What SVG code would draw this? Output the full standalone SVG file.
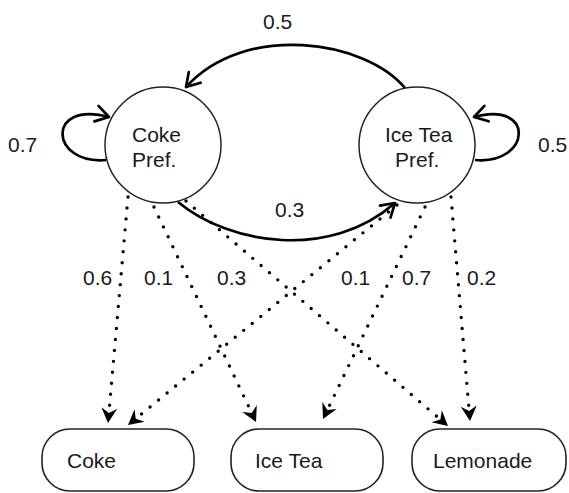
<svg xmlns="http://www.w3.org/2000/svg" width="569" height="493" viewBox="0 0 569 493">
<style>
  text { font-family: "Liberation Sans", Arial, sans-serif; font-size: 21px; fill: #1a1a1a; }
  .state { fill: #fff; stroke: #222; stroke-width: 1.5; }
  .obs { fill: #fff; stroke: #222; stroke-width: 1.6; }
  .solid { fill: none; stroke: #000; stroke-width: 2.7; }
  .dotted { fill: none; stroke: #000; stroke-width: 3.4; stroke-linecap: round; stroke-dasharray: 0 11; }
</style>
<defs>
  <marker id="open" markerUnits="userSpaceOnUse" markerWidth="26" markerHeight="26" viewBox="-20 -13 26 26" refX="0" refY="0" orient="auto">
    <path d="M-13,-8 L0,0 L-13,8" fill="none" stroke="#000" stroke-width="2.7" stroke-linecap="round" stroke-linejoin="round"/>
  </marker>
  <marker id="stealth" markerUnits="userSpaceOnUse" markerWidth="26" markerHeight="26" viewBox="-20 -13 26 26" refX="0" refY="0" orient="auto">
    <path d="M0,0 L-15,-8 L-10,0 L-15,8 Z" fill="#000"/>
  </marker>
</defs>

<g id="connectors">
  <path id="e-ice-coke" class="solid" d="M405 88 C365 40, 245 22, 186 87" marker-end="url(#open)"/>
  <path id="e-coke-self" class="solid" d="M106 160 C50 165, 45 100, 109 117" marker-end="url(#open)"/>
  <path id="e-ice-self" class="solid" d="M475 160 C531 165, 536 100, 474 117" marker-end="url(#open)"/>
  <path id="e-coke-ice" class="solid" d="M178 202 C230 245, 330 260, 395 203" marker-end="url(#open)"/>

  <path id="o-coke-coke" class="dotted" d="M128 197 L108 423" marker-end="url(#stealth)"/>
  <path id="o-coke-icetea" class="dotted" d="M154 207 L256 422" marker-end="url(#stealth)"/>
  <path id="o-coke-lemonade" class="dotted" d="M186 201 L448 426" marker-end="url(#stealth)"/>
  <path id="o-ice-coke" class="dotted" d="M397 205 L128 425" marker-end="url(#stealth)"/>
  <path id="o-ice-icetea" class="dotted" d="M425 207 L323 419" marker-end="url(#stealth)"/>
  <path id="o-ice-lemonade" class="dotted" d="M451 197 L470 421" marker-end="url(#stealth)"/>

  <text x="263" y="29">0.5</text>
  <text x="8" y="152">0.7</text>
  <text x="538" y="152">0.5</text>
  <text x="275" y="217">0.3</text>
  <text x="83" y="285">0.6</text>
  <text x="144" y="285">0.1</text>
  <text x="217" y="285">0.3</text>
  <text x="341" y="285">0.1</text>
  <text x="402" y="285">0.7</text>
  <text x="467" y="285">0.2</text>
</g>

<g id="coke-pref">
  <circle class="state" cx="163" cy="145" r="58"/>
  <text x="132" y="142">Coke</text>
  <text x="132" y="167">Pref.</text>
</g>
<g id="icetea-pref">
  <circle class="state" cx="417" cy="145" r="58"/>
  <text x="385" y="142">Ice Tea</text>
  <text x="395" y="167">Pref.</text>
</g>

<g id="coke">
  <rect class="obs" x="42" y="429" width="152" height="62" rx="28"/>
  <text x="67" y="468">Coke</text>
</g>
<g id="icetea">
  <rect class="obs" x="231" y="429" width="152" height="62" rx="28"/>
  <text x="255" y="468">Ice Tea</text>
</g>
<g id="lemonade">
  <rect class="obs" x="412" y="429" width="154" height="62" rx="28"/>
  <text x="433" y="468">Lemonade</text>
</g>
</svg>
